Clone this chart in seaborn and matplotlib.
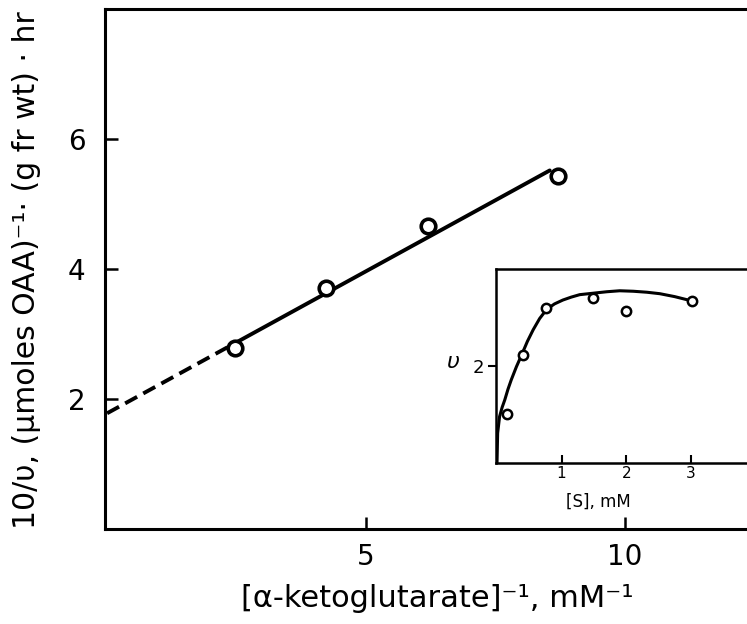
import numpy as np
import pandas as pd
import matplotlib
matplotlib.use('Agg')
import matplotlib.pyplot as plt
import seaborn as sns

# main plot: double reciprocal data
inv_akg = [2.47, 4.22, 6.19, 8.71]
inv_v = [2.79, 3.71, 4.65, 5.42]

# fitted line, solid part and extrapolated (dashed) part
fit_x = [2.5, 8.55]
fit_y = [2.87, 5.51]
extrap_x = [0.0, 2.5]
extrap_y = [1.78, 2.87]

# inset: v vs [S]
s_conc = [0.157, 0.395, 0.757, 1.48, 2.0, 3.02]
v_obs = [1.01, 2.22, 3.18, 3.40, 3.13, 3.34]

# smooth curve
curve_s = [0.0, 0.01, 0.04, 0.08, 0.12, 0.17, 0.22, 0.30, 0.38, 0.47, 0.56, 0.66, 0.77,
           0.89, 1.02, 1.15, 1.28, 1.49, 1.7, 1.9, 2.11, 2.32, 2.52, 2.75, 2.96, 3.02]
curve_v = [0.0, 0.62, 0.96, 1.15, 1.30, 1.52, 1.71, 1.98, 2.22, 2.50, 2.74, 2.97, 3.16,
           3.27, 3.35, 3.41, 3.46, 3.49, 3.52, 3.54, 3.53, 3.51, 3.48, 3.42, 3.35, 3.33]

main_xticks = [5, 10]
main_yticks = [2, 4, 6]
inset_xticks = [1, 2, 3]
inset_yticks = [2]

sns.set_style('ticks')
plt.rcParams['font.family'] = ['DejaVu Sans']
plt.rcParams['text.color'] = 'black'
plt.rcParams['axes.labelcolor'] = 'black'
plt.rcParams['xtick.color'] = 'black'
plt.rcParams['ytick.color'] = 'black'
plt.rcParams['axes.edgecolor'] = 'black'

fig = plt.figure(figsize=(7.47, 6.24), dpi=100)
ax = fig.add_axes([0.1406, 0.152, 0.8594, 0.8336])

sns.lineplot(x=fit_x, y=fit_y, ax=ax, color='black', linewidth=2.8, sort=False, estimator=None)
sns.lineplot(x=extrap_x, y=extrap_y, ax=ax, color='black', linewidth=2.8, sort=False,
             estimator=None, linestyle=(0, (3.5, 1.8)))
sns.scatterplot(x=inv_akg, y=inv_v, ax=ax, marker='o', s=110, facecolor='white',
                edgecolor='black', linewidth=2.6, zorder=5)

ax.set_xlim(-0.04, 12.36)
ax.set_ylim(0, 7.99)
ax.set_xticks(main_xticks)
ax.set_yticks(main_yticks)
ax.set_xticklabels(['5', '10'], fontsize=20)
ax.set_yticklabels(['2', '4', '6'], fontsize=20)
ax.tick_params(direction='in', length=9, width=1.8, pad=10)
ax.tick_params(axis='y', pad=14)
ax.spines['right'].set_visible(False)
for sp in ['left', 'bottom', 'top']:
    ax.spines[sp].set_linewidth(2.2)

ax.set_xlabel('[\u03b1-ketoglutarate]\u207b\u00b9, mM\u207b\u00b9', fontsize=22)
ax.xaxis.set_label_coords(0.517, -0.105)
ax.set_ylabel('10/\u03c5, (\u03bcmoles OAA)\u207b\u00b9\u00b7 (g fr wt) \u00b7 hr', fontsize=21.5)
ax.yaxis.set_label_coords(-0.1, 0.498)

# inset
ins = fig.add_axes([0.6636, 0.2575, 0.3364, 0.3109])
sns.lineplot(x=curve_s, y=curve_v, ax=ins, color='black', linewidth=2.2, sort=False, estimator=None)
sns.scatterplot(x=s_conc, y=v_obs, ax=ins, marker='o', s=45, facecolor='white',
                edgecolor='black', linewidth=1.8, zorder=5)
ins.set_xlim(-0.02, 3.87)
ins.set_ylim(0, 3.98)
ins.set_xticks(inset_xticks)
ins.set_yticks(inset_yticks)
ins.set_xticklabels(['1', '2', '3'], fontsize=11)
ins.set_yticklabels(['2'], fontsize=13)
ins.tick_params(axis='x', direction='in', length=6, width=1.5, pad=2)
ins.tick_params(axis='y', direction='out', length=6, width=1.5, pad=2)
ins.spines['right'].set_visible(False)
for sp in ['left', 'bottom', 'top']:
    ins.spines[sp].set_linewidth(1.8)
ins.set_xlabel('[S], mM', fontsize=12)
ins.xaxis.set_label_coords(0.41, -0.15)
ins.set_ylabel('\u03c5', fontsize=16, rotation=0, style='italic')
ins.yaxis.set_label_coords(-0.17, 0.47)

fig.savefig('out.png', dpi=100)
